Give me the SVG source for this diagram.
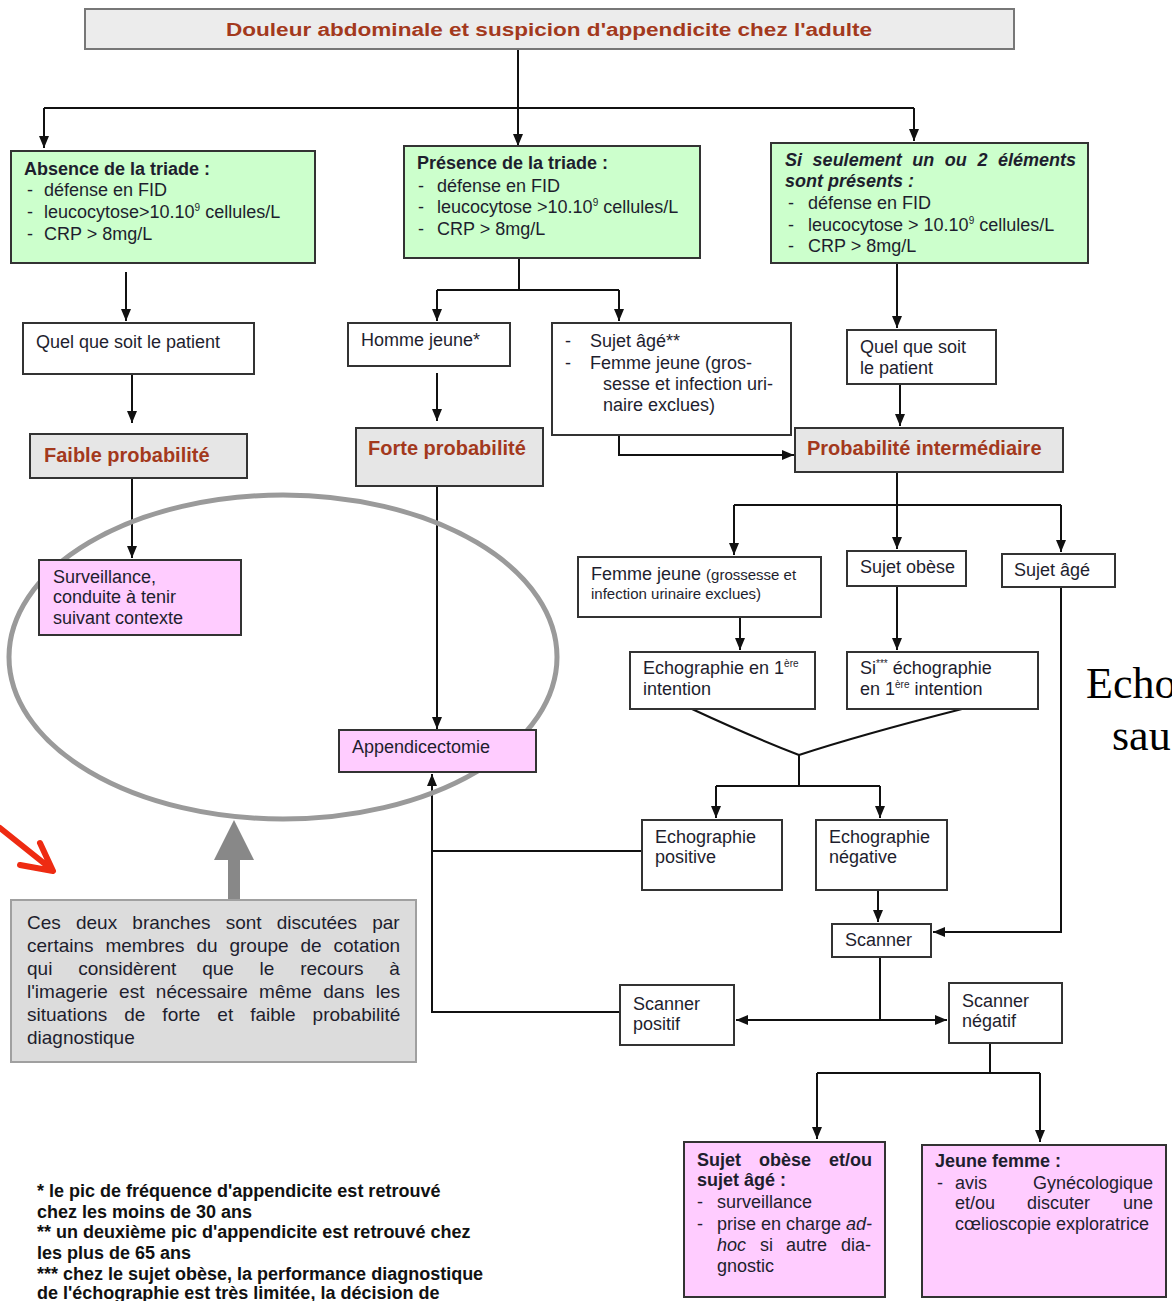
<svg xmlns="http://www.w3.org/2000/svg" width="1172" height="1301" viewBox="0 0 1172 1301">
<defs>
<marker id="ah" markerUnits="userSpaceOnUse" markerWidth="12" markerHeight="10" refX="12" refY="5" orient="auto">
<path d="M0,0 L12,5 L0,10 z" fill="#111"/>
</marker>
<style>
.bx{stroke:#333;stroke-width:2}
.g{fill:#ccffcc}
.p{fill:#ffccff}
.w{fill:#ffffff}
.gr{fill:#e6e6e6}
text{font-family:"Liberation Sans",Arial,sans-serif;font-size:18px;fill:#1e1e2e}
.b{font-weight:bold}
.i{font-style:italic}
.t{font-weight:bold;fill:#a3391d;font-size:20px}
.sm{font-size:15px}
.sup{font-size:10px}
.fn{font-weight:bold;font-size:18px;fill:#111}
.nt{font-size:19px}
.c{fill:none;stroke:#111;stroke-width:2}
.ca{fill:none;stroke:#111;stroke-width:2;marker-end:url(#ah)}
</style>
</defs>
<rect width="1172" height="1301" fill="#ffffff"/>

<g id="connectors">
<path class="ca" d="M518,49 V146"/>
<path class="c" d="M44,108 H914"/>
<path class="ca" d="M44,108 V148"/>
<path class="ca" d="M914,108 V141"/>
<path class="ca" d="M126,272 V321"/>
<path class="ca" d="M132,374 V423"/>
<path class="ca" d="M132,478 V558"/>
<path class="c" d="M519,258 V290 M437,290 H619"/>
<path class="ca" d="M437,290 V321"/>
<path class="ca" d="M619,290 V321"/>
<path class="ca" d="M437,373 V421"/>
<path class="ca" d="M437,486 V729"/>
<path class="ca" d="M619,435 V455 H794"/>
<path class="ca" d="M897,263 V328"/>
<path class="ca" d="M900,384 V426"/>
<path class="c" d="M897,472 V505 M734,505 H1061"/>
<path class="ca" d="M734,505 V555"/>
<path class="ca" d="M897,505 V549"/>
<path class="ca" d="M1061,505 V552"/>
<path class="ca" d="M740,617 V650"/>
<path class="ca" d="M897,586 V650"/>
<path class="c" d="M692,709 Q750,736 799,755 Q860,735 962,709"/>
<path class="c" d="M799,755 V786 M716,786 H880"/>
<path class="ca" d="M716,786 V818"/>
<path class="ca" d="M880,786 V818"/>
<path class="c" d="M642,851 H432"/>
<path class="ca" d="M620,1012 H432 V774"/>
<path class="ca" d="M878,890 V922"/>
<path class="ca" d="M1061,587 V932 H933"/>
<path class="c" d="M880,957 V1020"/>
<path class="ca" d="M880,1020 H736"/>
<path class="ca" d="M880,1020 H947"/>
<path class="c" d="M990,1043 V1073 M817,1073 H1040"/>
<path class="ca" d="M817,1073 V1139"/>
<path class="ca" d="M1040,1073 V1142"/>
</g>

<g id="ellipse-annotation">
<ellipse cx="283" cy="657" rx="274" ry="162" fill="none" stroke="#9a9a9a" stroke-width="5"/>
<rect x="228" y="858" width="12" height="42" fill="#888"/>
<path d="M234,820 L254,860 L214,860 z" fill="#888"/>
</g>

<g id="red-arrow">
<path d="M0,828 L50,868 M40,843 L53,871 L20,865" fill="none" stroke="#ee2b12" stroke-width="6" stroke-linecap="round" stroke-linejoin="round"/>
</g>

<g id="title">
<rect x="85" y="9" width="929" height="40" fill="#ececec" stroke="#777" stroke-width="2"/>
<text class="b" x="226" y="36" textLength="646" lengthAdjust="spacingAndGlyphs" style="fill:#a3391d">Douleur abdominale et suspicion d'appendicite chez l'adulte</text>
</g>

<g id="absence">
<rect class="bx g" x="11" y="151" width="304" height="112"/>
<text class="b" x="24" y="175">Absence de la triade :</text>
<text x="27" y="196">-</text><text x="44" y="196">défense en FID</text>
<text x="27" y="218">-</text><text x="44" y="218">leucocytose&gt;10.10<tspan class="sup" dy="-7">9</tspan><tspan dy="7"> cellules/L</tspan></text>
<text x="27" y="240">-</text><text x="44" y="240">CRP &gt; 8mg/L</text>
</g>

<g id="presence">
<rect class="bx g" x="404" y="146" width="296" height="112"/>
<text class="b" x="417" y="169">Présence de la triade :</text>
<text x="418" y="192">-</text><text x="437" y="192">défense en FID</text>
<text x="418" y="213">-</text><text x="437" y="213">leucocytose &gt;10.10<tspan class="sup" dy="-7">9</tspan><tspan dy="7"> cellules/L</tspan></text>
<text x="418" y="235">-</text><text x="437" y="235">CRP &gt; 8mg/L</text>
</g>

<g id="partiel">
<rect class="bx g" x="771" y="143" width="317" height="120"/>
<text class="b i" x="785" y="166" style="word-spacing:5.6px">Si seulement un ou 2 éléments</text>
<text class="b i" x="785" y="187">sont présents :</text>
<text x="788" y="209">-</text><text x="808" y="209">défense en FID</text>
<text x="788" y="231">-</text><text x="808" y="231">leucocytose &gt; 10.10<tspan class="sup" dy="-7">9</tspan><tspan dy="7"> cellules/L</tspan></text>
<text x="788" y="252">-</text><text x="808" y="252">CRP &gt; 8mg/L</text>
</g>

<g id="quel1">
<rect class="bx w" x="23" y="323" width="231" height="51"/>
<text x="36" y="348">Quel que soit le patient</text>
</g>

<g id="faible">
<rect class="bx gr" x="30" y="434" width="217" height="44"/>
<text class="t" x="44" y="462">Faible probabilité</text>
</g>

<g id="surveillance">
<rect class="bx p" x="39" y="560" width="202" height="75"/>
<text x="53" y="583">Surveillance,</text>
<text x="53" y="603">conduite à tenir</text>
<text x="53" y="624">suivant contexte</text>
</g>

<g id="homme">
<rect class="bx w" x="348" y="323" width="162" height="43"/>
<text x="361" y="346">Homme jeune*</text>
</g>

<g id="forte">
<rect class="bx gr" x="356" y="428" width="187" height="58"/>
<text class="t" x="368" y="455">Forte probabilité</text>
</g>

<g id="appendicectomie">
<rect class="bx p" x="339" y="730" width="197" height="42"/>
<text x="352" y="753">Appendicectomie</text>
</g>

<g id="sujetage1">
<rect class="bx w" x="552" y="323" width="239" height="112"/>
<text x="565" y="347">-</text><text x="590" y="347">Sujet âgé**</text>
<text x="565" y="369">-</text><text x="590" y="369">Femme jeune (gros-</text>
<text x="603" y="390">sesse et infection uri-</text>
<text x="603" y="411">naire exclues)</text>
</g>

<g id="quel2">
<rect class="bx w" x="847" y="330" width="149" height="54"/>
<text x="860" y="353">Quel que soit</text>
<text x="860" y="374">le patient</text>
</g>

<g id="intermediaire">
<rect class="bx gr" x="795" y="428" width="268" height="44"/>
<text class="t" x="807" y="455">Probabilité intermédiaire</text>
</g>

<g id="femmejeune">
<rect class="bx w" x="578" y="557" width="243" height="60"/>
<text x="591" y="580">Femme jeune <tspan class="sm">(grossesse et</tspan></text>
<text class="sm" x="591" y="599">infection urinaire exclues)</text>
</g>

<g id="obese">
<rect class="bx w" x="847" y="551" width="119" height="35"/>
<text x="860" y="573">Sujet obèse</text>
</g>

<g id="sujetage2">
<rect class="bx w" x="1002" y="554" width="113" height="33"/>
<text x="1014" y="576">Sujet âgé</text>
</g>

<g id="echo1">
<rect class="bx w" x="630" y="652" width="185" height="57"/>
<text x="643" y="674">Echographie en 1<tspan class="sup" dy="-7">ère</tspan></text>
<text x="643" y="695">intention</text>
</g>

<g id="echo2">
<rect class="bx w" x="847" y="652" width="191" height="57"/>
<text x="860" y="674">Si<tspan class="sup" dy="-7">***</tspan><tspan dy="7"> échographie</tspan></text>
<text x="860" y="695">en 1<tspan class="sup" dy="-7">ère</tspan><tspan dy="7"> intention</tspan></text>
</g>

<g id="echopos">
<rect class="bx w" x="642" y="820" width="140" height="70"/>
<text x="655" y="843">Echographie</text>
<text x="655" y="863">positive</text>
</g>

<g id="echoneg">
<rect class="bx w" x="816" y="820" width="131" height="70"/>
<text x="829" y="843">Echographie</text>
<text x="829" y="863">négative</text>
</g>

<g id="scanner">
<rect class="bx w" x="832" y="924" width="99" height="33"/>
<text x="845" y="946">Scanner</text>
</g>

<g id="scanpos">
<rect class="bx w" x="620" y="985" width="114" height="60"/>
<text x="633" y="1010">Scanner</text>
<text x="633" y="1030">positif</text>
</g>

<g id="scanneg">
<rect class="bx w" x="949" y="983" width="113" height="60"/>
<text x="962" y="1007">Scanner</text>
<text x="962" y="1027">négatif</text>
</g>

<g id="obeseage">
<rect class="bx p" x="684" y="1142" width="201" height="155"/>
<text class="b" x="697" y="1166" style="word-spacing:13px">Sujet obèse et/ou</text>
<text class="b" x="697" y="1186">sujet âgé :</text>
<text x="697" y="1208">-</text><text x="717" y="1208">surveillance</text>
<text x="697" y="1230">-</text><text x="717" y="1230">prise en charge <tspan class="i">ad-</tspan></text>
<text x="717" y="1251" class="i">hoc</text>
<text x="760" y="1251">si</text>
<text x="786" y="1251">autre</text>
<text x="871" y="1251" text-anchor="end">dia-</text>
<text x="717" y="1272">gnostic</text>
</g>

<g id="jeunefemme">
<rect class="bx p" x="922" y="1145" width="244" height="152"/>
<text class="b" x="935" y="1167">Jeune femme :</text>
<text x="937" y="1189">-</text>
<text x="955" y="1189">avis</text>
<text x="1153" y="1189" text-anchor="end">Gynécologique</text>
<text x="955" y="1209">et/ou</text>
<text x="1027" y="1209">discuter</text>
<text x="1153" y="1209" text-anchor="end">une</text>
<text x="955" y="1230">cœlioscopie exploratrice</text>
</g>

<g id="note">
<rect x="11" y="900" width="405" height="162" fill="#dcdcdc" stroke="#a0a0a0" stroke-width="2"/>
<text class="nt" x="27" y="929" style="word-spacing:9.9px">Ces deux branches sont discutées par</text>
<text class="nt" x="27" y="952" style="word-spacing:6.6px">certains membres du groupe de cotation</text>
<text class="nt" x="27" y="975" style="word-spacing:20.5px">qui considèrent que le recours à</text>
<text class="nt" x="27" y="998" style="word-spacing:6.1px">l'imagerie est nécessaire même dans les</text>
<text class="nt" x="27" y="1021" style="word-spacing:11.7px">situations de forte et faible probabilité</text>
<text class="nt" x="27" y="1044">diagnostique</text>
</g>

<g id="footnotes">
<text class="fn" x="37" y="1197">* le pic de fréquence d'appendicite est retrouvé</text>
<text class="fn" x="37" y="1218">chez les moins de 30 ans</text>
<text class="fn" x="37" y="1238">** un deuxième pic d'appendicite est retrouvé chez</text>
<text class="fn" x="37" y="1259">les plus de 65 ans</text>
<text class="fn" x="37" y="1280">*** chez le sujet obèse, la performance diagnostique</text>
<text class="fn" x="37" y="1299">de l'échographie est très limitée, la décision de</text>
</g>

<g id="side-text">
<text x="1086" y="698" style="font-family:'Liberation Serif','Times New Roman',serif;font-size:44px;fill:#000">Echo</text>
<text x="1112" y="750" style="font-family:'Liberation Serif','Times New Roman',serif;font-size:44px;fill:#000">sau</text>
</g>
</svg>
